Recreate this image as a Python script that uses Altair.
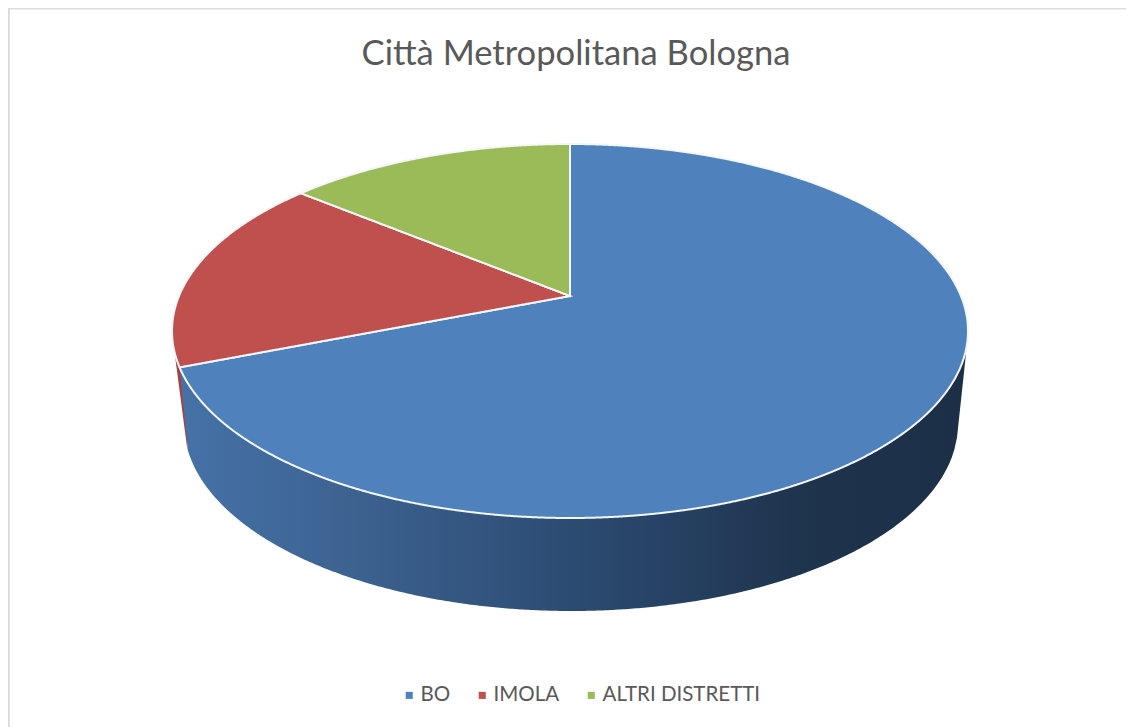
import numpy as np
import pandas as pd
import altair as alt

TITLE = "Città Metropolitana Bologna"
categories = ["BO", "IMOLA", "ALTRI DISTRETTI"]
shares = [69, 17, 14]
colors = ["#4F81BD", "#C0504D", "#9BBB59"]

FONT = "Lato"
W, H = 1118, 719
# projected pie geometry (top ellipse, perspective offset of the pie's centre, bottom rim)
CX, CY, A, B = 570.0, 331.0, 398.0, 187.0
APEX_Y = 296.0
K = (APEX_Y - CY) / B
LOW_CX, LOW_CY, LOW_A, LOW_B = 571.0, 424.0, 387.0, 187.0


def project(theta):
    """Angle clockwise from 12 o'clock on the pie -> picture position."""
    u, v = np.sin(theta), -np.cos(theta)
    d = 1 + K * v
    return CX + A * u * np.sqrt(1 - K * K) / d, CY + B * (v + K) / d


def slice_sections(start, end):
    thetas = np.linspace(start, end, 1500)
    px, py = project(thetas)
    poly = np.column_stack([np.r_[CX, px], np.r_[APEX_Y, py]])
    lo, hi = poly[:, 0].min(), poly[:, 0].max()
    corners = np.array([CX, px[0], px[-1]])
    xs = np.unique(np.r_[
        np.arange(np.ceil(lo), hi, 1.0),
        corners - 0.01, corners + 0.01,
        lo + 0.001, hi - 0.001,
        np.linspace(lo, min(lo + 6, hi), 30),
        np.linspace(max(hi - 6, lo), hi, 30),
    ])
    xs = xs[(xs > lo) & (xs < hi)]
    rows = []
    x0s, y0s = poly[:, 0], poly[:, 1]
    x1s, y1s = np.roll(x0s, -1), np.roll(y0s, -1)
    for x in xs:
        mask = ((x0s - x) * (x1s - x) <= 0) & (x0s != x1s)
        hits = y0s[mask] + (x - x0s[mask]) / (x1s[mask] - x0s[mask]) * (y1s[mask] - y0s[mask])
        if len(hits) >= 2:
            rows.append((x, hits.min(), hits.max()))
    return rows


rows = []
cum = 0.0
total = sum(shares)
ends = {}
for name, share in zip(categories, shares):
    t0 = cum / total * 2 * np.pi
    cum += share
    t1 = cum / total * 2 * np.pi
    ends[name] = (t0, t1)
    for x, y0, y1 in slice_sections(t0, t1):
        rows.append({"name": name, "x": x, "y": y0, "y2": y1})
tops = pd.DataFrame(rows)


def top_lower(x):
    return CY + B * np.sqrt(np.clip(1 - ((x - CX) / A) ** 2, 0, 1))


def low_lower(x):
    return LOW_CY + LOW_B * np.sqrt(np.clip(1 - ((x - LOW_CX) / LOW_A) ** 2, 0, 1))


bo_left_x, bo_left_y = project(np.array([ends["BO"][1]]))
bo_left_x = float(bo_left_x[0])
bo_left_y = float(bo_left_y[0])
LX, RX = 188.0, 957.0
wall_xs = np.r_[np.linspace(bo_left_x, LX, 8), np.linspace(LX + 1, RX, 300), np.linspace(RX + 0.3, CX + A - 1, 10)]
wall_rows = []
for x in wall_xs:
    if x < LX:
        bot = bo_left_y + (x - bo_left_x) / (LX - bo_left_x) * (low_lower(LX) - bo_left_y)
    elif x > RX:
        xe = CX + A - 1
        bot = top_lower(xe) + (xe - x) / (xe - RX) * (low_lower(RX) - top_lower(xe))
    else:
        bot = low_lower(x)
    wall_rows.append({"x": x, "y": top_lower(x), "y2": bot})
wall = pd.DataFrame(wall_rows)

red_xs = np.linspace(174.5, LX - 0.5, 14)
red_wall = pd.DataFrame({
    "x": red_xs,
    "y": top_lower(red_xs),
    "y2": 352 + (red_xs - 174.5) / (LX - 0.5 - 174.5) * (low_lower(LX) - 352),
})

xs = alt.X("x:Q", scale=alt.Scale(domain=[8, 8 + W], nice=False, zero=False), axis=None)
ys = alt.Y("y:Q", scale=alt.Scale(domain=[8 + H, 8], nice=False, zero=False), axis=None, stack=None)

wall_fill = alt.LinearGradient(
    gradient="linear",
    x1=0, x2=1, y1=0, y2=0,
    stops=[
        alt.GradientStop(offset=0.0, color="#4672A8"),
        alt.GradientStop(offset=0.22, color="#3C6290"),
        alt.GradientStop(offset=0.5, color="#2C4B72"),
        alt.GradientStop(offset=0.8, color="#1E334C"),
        alt.GradientStop(offset=1.0, color="#1C2F47"),
    ],
)

red_layer = alt.Chart(red_wall).mark_area(color="#A8403E").encode(x=xs, y=ys, y2="y2:Q")
wall_layer = alt.Chart(wall).mark_area(fill=wall_fill).encode(x=xs, y=ys, y2="y2:Q")
top_layer = alt.Chart(tops).mark_area(stroke="#F4F7FA", strokeWidth=2).encode(
    x=xs, y=ys, y2="y2:Q",
    color=alt.Color(
        "name:N",
        scale=alt.Scale(domain=categories, range=colors),
        legend=alt.Legend(
            title=None,
            orient="none",
            legendX=391,
            legendY=677,
            direction="horizontal",
            symbolType="square",
            symbolSize=50,
            symbolStrokeWidth=0,
            labelFont=FONT,
            labelFontSize=20.5,
            labelColor="#595959",
            columnPadding=21,
            labelOffset=1,
        ),
        sort=categories,
    ),
)

left_frame = alt.Chart(pd.DataFrame({"x": [8.5], "y": [8], "y2": [8 + H]})).mark_rule(
    color="#D9D9D9", strokeWidth=2.5
).encode(x=xs, y=ys, y2="y2:Q")
top_frame = alt.Chart(pd.DataFrame({"x": [8], "x2": [8 + W], "y": [8.7]})).mark_rule(
    color="#DDDDDD", strokeWidth=1.4
).encode(x=xs, x2="x2:Q", y=ys)

chart = (
    alt.layer(left_frame, top_frame, red_layer, wall_layer, top_layer)
    .properties(
        width=W,
        height=H,
        padding=0,
        autosize=alt.AutoSizeParams(type="none"),
        title=alt.TitleParams(
            TITLE,
            font=FONT,
            fontSize=34.6,
            fontWeight="normal",
            color="#595959",
            anchor="middle",
            dx=9,
            dy=70,
        ),
    )
    .configure_view(stroke=None)
)

chart.save("out.html", embed_options={"renderer": "svg", "actions": False})
